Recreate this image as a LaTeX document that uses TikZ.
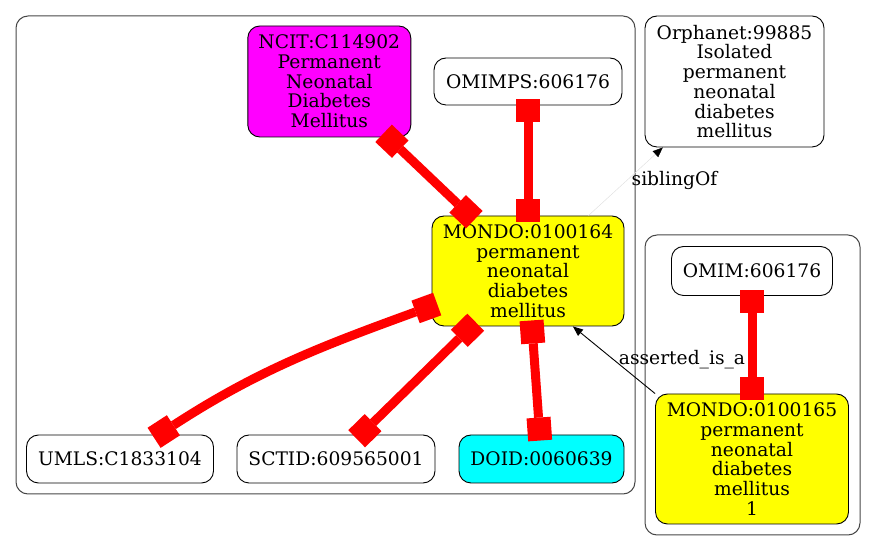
\documentclass[tikz,border=0pt]{standalone}
\usepackage{fontspec}
\setmainfont{DejaVu Serif}
\usepackage{xcolor}
\usetikzlibrary{arrows.meta}
\definecolor{ink}{RGB}{0,0,0}
\definecolor{clusterfr}{RGB}{70,70,70}
\definecolor{nodemag}{RGB}{255,0,255}
\definecolor{nodeyel}{RGB}{255,255,0}
\definecolor{nodecyan}{RGB}{0,255,255}
\definecolor{xrefred}{RGB}{255,0,0}
\definecolor{sibgray}{RGB}{225,225,225}
\tikzset{
  ent/.style={draw=ink, fill=white, rounded corners=12pt, align=center,
    inner sep=0pt, font=\fontsize{18.67}{19.7}\selectfont, text=ink, line width=0.9pt},
  mbox/.style={ent, fill=nodeyel},
  nbox/.style={ent, fill=nodemag},
  dbox/.style={ent, fill=nodecyan},
  lbl/.style={font=\fontsize{18.67}{19.7}\selectfont, text=ink, inner sep=0pt},
  cluster/.style={draw=clusterfr, rounded corners=12pt, line width=1pt},
  boxtip/.tip={Rectangle[length=23pt, width=24pt, line width=0pt]},
  xref/.style={draw=xrefred, line width=9pt, boxtip-boxtip,
    shorten <=-6pt, shorten >=-6pt},
  isa/.style={-{Triangle[length=10pt, width=8pt]}, line width=0.9pt, draw=ink},
  sib/.style={-{Triangle[length=10pt, width=8pt, color=ink, fill=ink]},
    line width=0.5pt, draw=sibgray},
}
\begin{document}
\begin{tikzpicture}[x=1pt, y=1pt]
\useasboundingbox (0,0) rectangle (875,551);
% clusters
\draw[cluster] (16,57) rectangle (635,535);
\draw[cluster] (645,16) rectangle (860,316);
% nodes
\node[nbox, minimum width=163pt, minimum height=111pt] (ncit) at (329.3,469.5)
  {NCIT:C114902\\Permanent\\Neonatal\\Diabetes\\Mellitus};
\node[ent, minimum width=188pt, minimum height=47pt] (omimps) at (528,469.5) {OMIMPS:606176};
\node[mbox, minimum width=192pt, minimum height=110pt] (m164) at (528,280)
  {MONDO:0100164\\permanent\\neonatal\\diabetes\\mellitus};
\node[ent, minimum width=187pt, minimum height=48pt] (umls) at (120,92) {UMLS:C1833104};
\node[ent, minimum width=198pt, minimum height=48pt] (sctid) at (336,92) {SCTID:609565001};
\node[dbox, minimum width=165pt, minimum height=48pt] (doid) at (541.5,92) {DOID:0060639};
\node[ent, minimum width=179pt, minimum height=131pt] (orpha) at (734.5,469.5)
  {Orphanet:99885\\Isolated\\permanent\\neonatal\\diabetes\\mellitus};
\node[ent, minimum width=161pt, minimum height=49pt] (omim) at (752,280) {OMIM:606176};
\node[mbox, minimum width=193pt, minimum height=130pt] (m165) at (752,92)
  {MONDO:0100165\\permanent\\neonatal\\diabetes\\mellitus\\1};
% edges
\draw[xref] (ncit) -- (m164);
\draw[xref] (omimps) -- (m164);
\draw[xref] (m164.200) to[out=200, in=33] (umls.32);
\draw[xref] (m164) -- (sctid);
\draw[xref] (m164) -- (doid);
\draw[xref] (omim) -- (m165);
\draw[sib] (m164) -- (orpha);
\draw[isa] (m165.north west) -- (m164.-51);
\node[lbl] (siblab) at (674.5,371) {siblingOf};
\node[lbl] (isalab) at (682,191) {asserted\_is\_a};
\end{tikzpicture}
\end{document}
